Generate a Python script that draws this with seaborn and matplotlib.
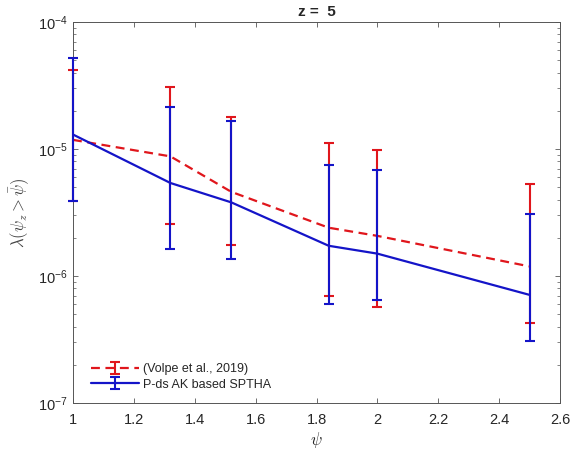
import numpy as np
import pandas as pd
import matplotlib
matplotlib.use("Agg")
import matplotlib.pyplot as plt
import seaborn as sns
from matplotlib.legend_handler import HandlerTuple
from matplotlib.ticker import LogLocator, NullFormatter

# ---- data ----
psi = [1.0, 1.32, 1.52, 1.84, 2.0, 2.5]

volpe_mean = [1.18e-5, 8.75e-6, 4.6e-6, 2.4e-6, 2.07e-6, 1.19e-6]
volpe_upper = [4.2e-5, 3.07e-5, 1.78e-5, 1.11e-5, 9.8e-6, 5.3e-6]
volpe_lower = [3.88e-6, 2.55e-6, 1.77e-6, 6.9e-7, 5.7e-7, 4.3e-7]

pds_mean = [1.30e-5, 5.4e-6, 3.8e-6, 1.73e-6, 1.50e-6, 7.1e-7]
pds_upper = [5.2e-5, 2.16e-5, 1.65e-5, 7.5e-6, 6.85e-6, 3.05e-6]
pds_lower = [3.88e-6, 1.64e-6, 1.35e-6, 6.05e-7, 6.45e-7, 3.05e-7]

series_names = ["(Volpe et al., 2019)", "P-ds AK based SPTHA"]
xticks = [1.0, 1.2, 1.4, 1.6, 1.8, 2.0, 2.2, 2.4, 2.6]
xtick_labels = ["1", "1.2", "1.4", "1.6", "1.8", "2", "2.2", "2.4", "2.6"]
title_text = "z =  5"

RED = "#e0161c"
BLUE = "#1414c8"
GREY = "#262626"

sns.set_theme(style="ticks")
plt.rcParams["font.family"] = ["Liberation Sans", "DejaVu Sans"]
plt.rcParams["mathtext.fontset"] = "cm"

df = pd.DataFrame({
    "psi": psi + psi,
    "value": volpe_mean + pds_mean,
    "model": [series_names[0]] * len(psi) + [series_names[1]] * len(psi),
})

fig = plt.figure(figsize=(5.87, 4.55), dpi=100)
W, H = 587, 455
ax = fig.add_axes([73 / W, 1 - 403 / H, (560 - 73) / W, (403 - 22) / H])

sns.lineplot(data=df, x="psi", y="value", hue="model", style="model",
             palette={series_names[0]: RED, series_names[1]: BLUE},
             dashes={series_names[0]: (4, 2.5), series_names[1]: ""},
             linewidth=1.6, legend=False, ax=ax)
line_red, line_blue = ax.lines[0], ax.lines[1]


def draw_err(mean, lower, upper, color, z):
    m = np.array(mean)
    eb = ax.errorbar(psi, mean,
                     yerr=[m - np.array(lower), np.array(upper) - m],
                     fmt="none", ecolor=color, elinewidth=1.5, capsize=3.5,
                     capthick=1.5, zorder=z)
    for art in list(eb[1]) + list(eb[2]):
        art.set_clip_on(False)
    return eb


eb_red = draw_err(volpe_mean, volpe_lower, volpe_upper, RED, 3)
eb_blue = draw_err(pds_mean, pds_lower, pds_upper, BLUE, 4)

ax.set_yscale("log")
ax.set_xlim(1.0, 2.6)
ax.set_ylim(1e-7, 1e-4)
ax.set_xticks(xticks)
ax.set_xticklabels(xtick_labels)
ax.yaxis.set_major_locator(LogLocator(base=10, numticks=10))
ax.yaxis.set_minor_locator(LogLocator(base=10, subs=np.arange(2, 10), numticks=20))
ax.yaxis.set_minor_formatter(NullFormatter())

ax.tick_params(which="both", direction="in", top=True, right=True,
               colors="#555555", labelcolor=GREY, labelsize=10.5)
ax.tick_params(which="major", length=3.5, width=0.6)
ax.tick_params(which="minor", length=2, width=0.5)
ax.tick_params(axis="x", pad=7)
ax.tick_params(axis="y", pad=4)
for s in ax.spines.values():
    s.set_color("#555555")
    s.set_linewidth(0.7)

ax.set_xlabel(r"$\psi$", fontsize=12, color=GREY, labelpad=2)
ax.set_ylabel(r"$\lambda(\psi_z > \bar{\psi})$", fontsize=12, color="#444444", labelpad=4)
ax.set_title(title_text, fontweight="bold", fontsize=11, pad=4)

leg = ax.legend(handles=[(line_red, eb_red), (line_blue, eb_blue)],
                labels=series_names,
                handler_map={tuple: HandlerTuple(ndivide=1)},
                loc="lower left", bbox_to_anchor=(0.012, 0.0),
                frameon=False, fontsize=9,
                handlelength=3.8, handletextpad=0.35, borderaxespad=0.6,
                labelspacing=0.25)

fig.savefig("out.png", dpi=100)
